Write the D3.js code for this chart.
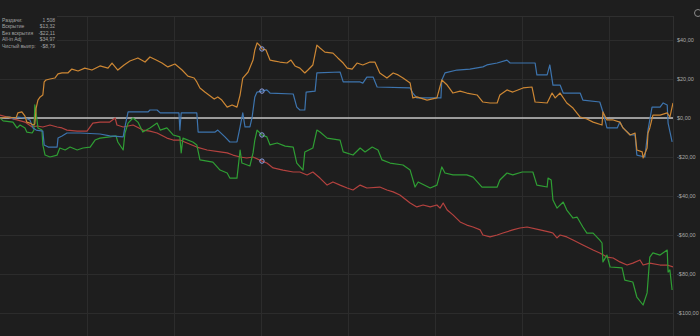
<!DOCTYPE html>
<html><head><meta charset="utf-8">
<script src="https://cdn.jsdelivr.net/npm/d3@7"></script>
<style>html,body{margin:0;padding:0;background:#1e1e1e;overflow:hidden}</style>
</head><body><svg id="c" width="700" height="336"></svg>
<script>
// ---- data ----
const totalHands = 1508;
const yTicks = [40, 20, 0, -20, -40, -60, -80, -100, -120];
const xGridTicks = [195, 390, 585, 780, 975, 1170, 1365];
const statLabels = ["Раздачи:", "Вскрытие", "Без вскрытия", "All-in Adj", "Чистый выигр:"];
const statValues = ["1 508", "$13,32", "-$22,11", "$34,97", "-$8,79"];
const markerHand = 587;

const allInAdj = [[0,0],[18,0.5],[36,0],[40,2.6],[49,3.1],[56,1.0],[60,-2.1],[67,-2.6],[74,-3.6],[78,-3.1],[81,5.1],[85,9.2],[90,10.8],[96,11.8],[99,18.5],[103,19.5],[112,20.0],[123,20.5],[130,22.6],[139,23.1],[152,23.1],[161,25.1],[175,24.1],[190,25.6],[206,24.6],[224,26.7],[242,25.6],[251,28.2],[264,24.6],[278,27.2],[291,29.2],[309,30.8],[325,28.7],[336,31.3],[350,29.7],[363,28.2],[376,26.2],[392,27.7],[408,24.6],[421,21.5],[435,20.5],[441,18.5],[448,15.4],[459,13.3],[471,11.3],[480,9.7],[488,10.8],[497,9.2],[509,5.6],[520,6.7],[531,5.6],[538,11.8],[544,20.5],[556,23.6],[567,29.7],[571,34.9],[576,38.5],[583,36.9],[587,35.4],[596,34.9],[605,29.7],[616,29.2],[627,28.7],[643,28.2],[652,29.7],[661,26.7],[672,25.6],[683,23.1],[690,24.6],[701,27.2],[710,37.4],[717,35.9],[728,33.8],[746,33.3],[757,30.8],[769,28.2],[778,25.6],[789,25.1],[800,28.2],[813,27.2],[829,28.7],[840,28.7],[851,23.1],[867,20.5],[881,23.1],[892,22.1],[903,20.5],[919,17.9],[925,10.3],[934,10.8],[957,9.2],[979,10.3],[990,19.5],[1002,16.9],[1015,12.8],[1031,13.8],[1046,12.8],[1069,11.8],[1082,8.2],[1098,7.7],[1114,7.7],[1120,11.8],[1136,14.4],[1149,13.3],[1172,15.4],[1192,15.9],[1199,8.2],[1226,7.7],[1237,12.8],[1244,10.3],[1255,12.8],[1270,7.7],[1284,5.1],[1300,0.5],[1315,-0.5],[1329,-2.1],[1349,-3.6],[1351,3.1],[1360,-1.0],[1374,-1.0],[1389,-2.1],[1396,-5.1],[1412,-8.7],[1423,-7.7],[1427,-16.4],[1439,-17.4],[1441,-20.5],[1450,-15.4],[1452,-7.7],[1456,-5.1],[1463,1.5],[1479,1.5],[1495,2.6],[1501,0.5],[1508,7.7]];

const showdown = [[0,0],[22,0.5],[31,-0.5],[40,0.5],[56,0],[67,-1.0],[74,-5.1],[81,-6.2],[96,-6.7],[99,-13.8],[108,-14.9],[128,-14.9],[130,-10.3],[139,-9.2],[150,-7.7],[179,-7.7],[224,-8.2],[246,-9.2],[276,-9.7],[280,-4.6],[287,3.1],[332,3.1],[336,4.1],[352,4.1],[359,2.6],[401,2.6],[403,-6.2],[406,2.6],[441,2.6],[444,-7.2],[482,-7.2],[488,-6.2],[504,-9.7],[515,-12.3],[531,-12.3],[538,-4.6],[544,2.6],[549,-4.6],[560,-4.6],[565,0.5],[571,10.8],[576,13.3],[587,13.8],[598,14.4],[605,12.8],[657,12.3],[665,5.6],[672,4.1],[683,4.1],[686,13.3],[706,13.8],[710,23.1],[762,23.6],[769,18.5],[807,18.5],[813,17.9],[822,21.0],[836,21.0],[845,15.9],[919,15.4],[925,12.8],[934,10.3],[988,10.3],[990,19.5],[997,23.1],[1024,24.6],[1053,25.1],[1082,26.2],[1091,27.2],[1114,28.2],[1136,29.7],[1143,28.2],[1199,28.2],[1203,22.1],[1226,22.1],[1232,27.2],[1239,16.9],[1255,16.9],[1262,12.8],[1300,12.8],[1306,9.2],[1344,8.2],[1351,3.1],[1360,-5.1],[1383,-5.1],[1389,-2.1],[1396,-5.1],[1412,-8.7],[1423,-8.7],[1427,-19.0],[1445,-20.0],[1452,-6.2],[1461,5.6],[1479,5.6],[1486,7.7],[1495,6.7],[1497,-2.6],[1506,-12.3]];

const netWon = [[0,0],[7,-1.5],[29,-2.1],[38,-5.1],[45,-3.6],[56,-5.1],[60,-7.2],[72,-7.7],[76,-6.2],[78,6.7],[81,2.6],[85,-5.1],[94,-6.2],[96,-13.8],[101,-19.0],[112,-20.0],[128,-19.0],[134,-15.4],[146,-16.4],[157,-14.9],[173,-16.4],[186,-15.4],[202,-14.9],[213,-11.3],[224,-10.3],[246,-9.7],[260,-9.2],[264,-12.3],[276,-16.4],[280,-7.7],[287,-2.6],[298,0],[309,-2.1],[320,-7.2],[336,-5.1],[352,-2.6],[359,-6.2],[374,-5.1],[388,-8.7],[403,-9.7],[406,-17.9],[410,-10.3],[432,-12.3],[441,-13.8],[448,-21.5],[477,-22.6],[493,-26.7],[509,-28.2],[515,-30.8],[531,-30.8],[538,-16.4],[542,-23.1],[560,-24.6],[567,-17.9],[571,-11.3],[576,-6.2],[587,-8.7],[598,-9.7],[605,-13.8],[621,-12.8],[639,-14.4],[657,-14.9],[665,-23.1],[679,-26.7],[683,-17.4],[701,-15.4],[710,-6.2],[717,-7.2],[733,-10.3],[762,-11.3],[769,-17.4],[791,-19.0],[807,-15.4],[818,-17.4],[834,-14.9],[847,-16.4],[856,-21.5],[874,-23.1],[903,-24.1],[919,-26.7],[930,-35.4],[937,-32.8],[964,-35.9],[979,-34.4],[990,-25.1],[997,-28.2],[1015,-29.2],[1046,-29.2],[1060,-30.3],[1080,-35.4],[1114,-35.4],[1120,-31.8],[1136,-28.2],[1149,-29.2],[1170,-27.7],[1194,-27.7],[1203,-34.4],[1226,-35.4],[1228,-30.8],[1235,-31.8],[1239,-42.1],[1248,-46.2],[1262,-43.1],[1270,-47.2],[1284,-51.3],[1293,-50.8],[1306,-55.9],[1315,-59.0],[1329,-59.0],[1344,-62.6],[1349,-64.1],[1351,-73.8],[1360,-70.3],[1367,-76.4],[1394,-76.9],[1400,-83.1],[1418,-84.1],[1427,-91.8],[1441,-95.9],[1450,-89.7],[1456,-71.3],[1463,-69.2],[1479,-70.3],[1495,-67.7],[1497,-79.0],[1501,-77.9],[1506,-88.2]];

const nonShowdown = [[0,1.5],[16,0.5],[29,-0.5],[38,-1.0],[56,-2.1],[72,-4.6],[83,-4.1],[96,-4.6],[112,-3.6],[128,-4.6],[139,-5.1],[150,-6.2],[173,-6.7],[195,-6.7],[208,-2.6],[224,-2.1],[246,-2.1],[258,0],[262,-3.6],[276,-4.6],[298,-3.6],[320,-6.2],[336,-6.7],[352,-7.7],[374,-10.3],[388,-11.3],[403,-11.3],[419,-12.8],[441,-14.9],[464,-16.4],[493,-17.4],[509,-17.9],[522,-19.0],[538,-20.0],[553,-20.5],[567,-20.0],[587,-22.1],[598,-23.1],[612,-25.6],[634,-26.7],[657,-27.7],[672,-27.7],[688,-29.2],[701,-27.7],[717,-30.8],[733,-34.4],[746,-32.8],[762,-34.4],[778,-35.9],[791,-36.9],[807,-34.4],[822,-35.9],[851,-35.4],[867,-36.9],[881,-37.9],[896,-39.5],[919,-43.6],[934,-45.6],[948,-44.6],[964,-45.6],[979,-44.6],[986,-46.2],[993,-43.6],[1002,-47.2],[1015,-49.7],[1031,-53.3],[1046,-54.9],[1060,-55.9],[1076,-57.4],[1082,-60.0],[1098,-61.0],[1114,-60.0],[1127,-59.0],[1149,-57.4],[1165,-56.4],[1181,-55.9],[1210,-57.4],[1232,-58.5],[1239,-59.0],[1248,-61.5],[1255,-60.0],[1270,-61.0],[1284,-62.6],[1306,-65.1],[1329,-67.7],[1344,-69.2],[1360,-71.3],[1374,-71.8],[1389,-73.8],[1405,-75.4],[1418,-74.4],[1434,-72.8],[1441,-75.4],[1456,-74.4],[1479,-75.4],[1495,-75.4],[1508,-76.4]];

// ---- drawing ----
const svg = d3.select("#c");
const plotRight = 673, plotTop = 16, plotBottom = 336;
const x = d3.scaleLinear().domain([0, totalHands]).range([0, plotRight]);
const y = d3.scaleLinear().domain([-100, 40]).range([313, 40]);

svg.append("rect").attr("width", 700).attr("height", 336).attr("fill", "#1e1e1e");

svg.append("defs").append("clipPath").attr("id", "plot")
  .append("rect").attr("x", 0).attr("y", plotTop).attr("width", plotRight).attr("height", plotBottom - plotTop);

const grid = svg.append("g").attr("clip-path", "url(#plot)");
grid.selectAll("line.h").data(yTicks).join("line")
  .attr("x1", 0).attr("x2", plotRight)
  .attr("y1", d => Math.round(y(d)) + 0.5).attr("y2", d => Math.round(y(d)) + 0.5)
  .attr("stroke", "#2c2c2c").attr("stroke-width", 1);
grid.selectAll("line.v").data(xGridTicks).join("line")
  .attr("x1", d => Math.round(x(d)) + 0.5).attr("x2", d => Math.round(x(d)) + 0.5)
  .attr("y1", plotTop).attr("y2", plotBottom)
  .attr("stroke", "#2c2c2c").attr("stroke-width", 1);

// border
svg.append("line").attr("x1", 0).attr("x2", plotRight).attr("y1", plotTop + 0.5).attr("y2", plotTop + 0.5).attr("stroke", "#2f2f2f");
svg.append("line").attr("x1", plotRight + 0.5).attr("x2", plotRight + 0.5).attr("y1", plotTop).attr("y2", plotBottom).attr("stroke", "#2f2f2f");

// stats box background (covers grid)
svg.append("rect").attr("x", 0).attr("y", 0).attr("width", 57).attr("height", 52).attr("fill", "#1e1e1e");

// zero line
svg.append("line").attr("x1", 0).attr("x2", plotRight)
  .attr("y1", y(0)).attr("y2", y(0)).attr("stroke", "#c4c4c4").attr("stroke-width", 1.4);

const line = d3.line().x(d => x(d[0])).y(d => y(d[1]));
const series = [
  {data: nonShowdown, color: "#b4423f"},
  {data: netWon, color: "#2f9e34"},
  {data: showdown, color: "#3d74ae"},
  {data: allInAdj, color: "#cd8734"}
];
const lines = svg.append("g").attr("clip-path", "url(#plot)");
lines.selectAll("path").data(series).join("path")
  .attr("d", s => line(s.data)).attr("fill", "none")
  .attr("stroke", s => s.color).attr("stroke-width", 1.2).attr("stroke-linejoin", "round");

// markers
lines.selectAll("circle").data(series).join("circle")
  .attr("cx", x(markerHand))
  .attr("cy", s => y(s.data.find(d => d[0] === markerHand)[1]))
  .attr("r", 2.2).attr("fill", "none").attr("stroke", "#8ea2e6").attr("stroke-width", 1);

// y axis
const fmt = v => (v < 0 ? "-" : "") + "$" + Math.abs(v).toFixed(2).replace(".", ",");
const axis = svg.append("g").attr("transform", `translate(${plotRight},0)`)
  .call(d3.axisRight(y).tickValues(yTicks.filter(t => t >= -100)).tickFormat(fmt).tickSize(0).tickPadding(4));
axis.select(".domain").remove();
axis.selectAll("text").attr("fill", "#a9a9a9").attr("font-size", "5.5px").attr("font-family", "Liberation Sans, Arial, sans-serif");

// stats
const stats = svg.append("g").attr("font-family", "Liberation Sans, Arial, sans-serif").attr("font-size", "5px").attr("fill", "#a3a3a3");
stats.selectAll("text.l").data(statLabels).join("text")
  .attr("x", 2).attr("y", (d, i) => 21.5 + i * 6.6).text(d => d);
stats.selectAll("text.v").data(statValues).join("text")
  .attr("x", 55).attr("text-anchor", "end").attr("y", (d, i) => 21.5 + i * 6.6).text(d => d);

// top-right icon
svg.append("circle").attr("cx", 698).attr("cy", 13).attr("r", 3.5).attr("fill", "none").attr("stroke", "#8a8a8a").attr("stroke-width", 1);
</script></body></html>
